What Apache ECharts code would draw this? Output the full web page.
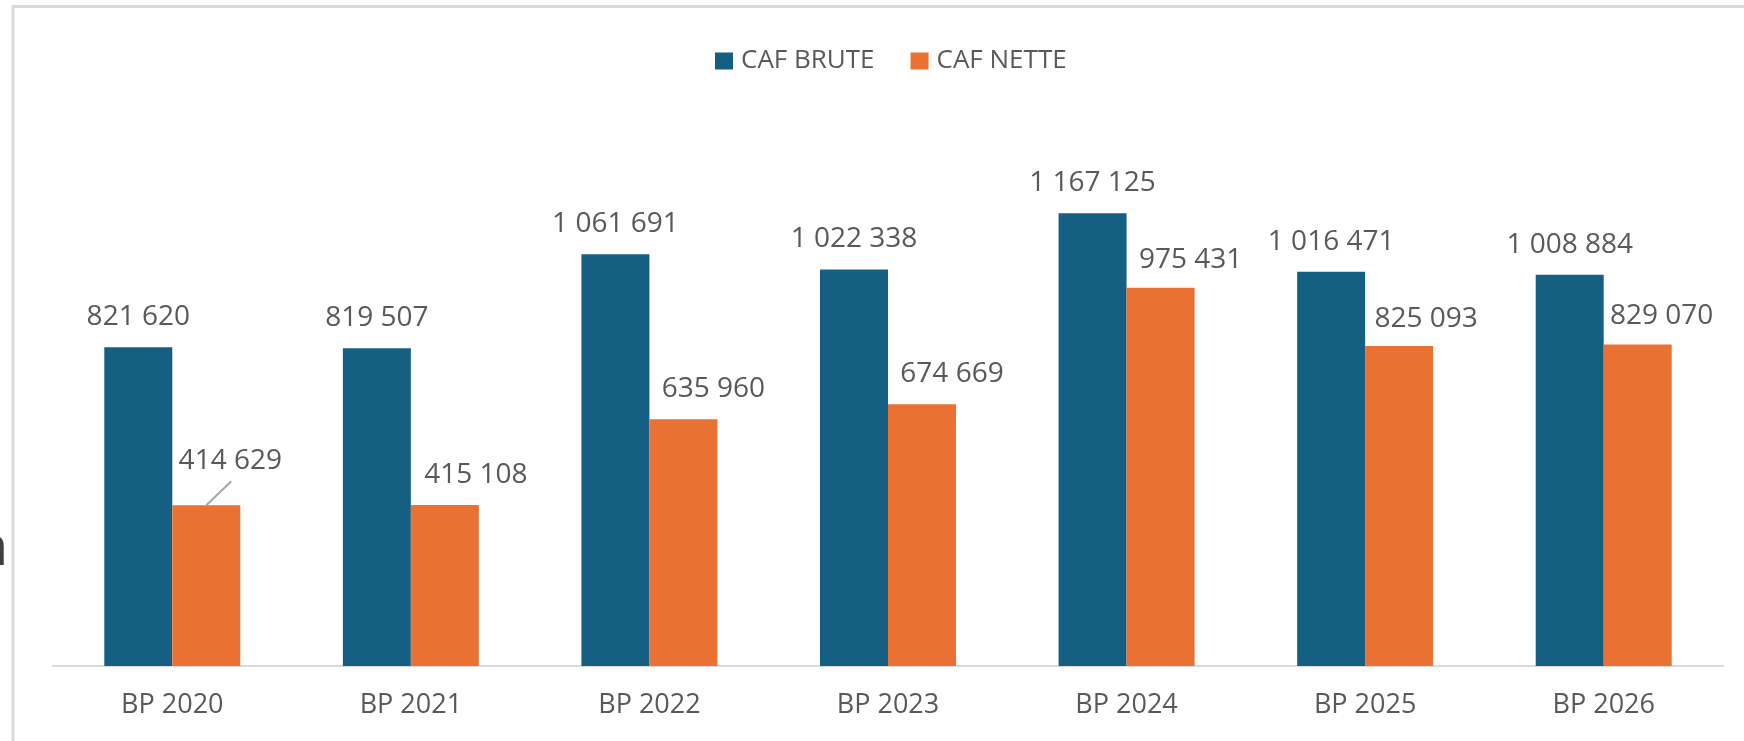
<!DOCTYPE html>
<html>
<head>
<meta charset="utf-8">
<title>CAF brute / CAF nette</title>
<script src="https://cdn.jsdelivr.net/npm/echarts@6/dist/echarts.min.js"></script>
<style>
  html, body { margin: 0; padding: 0; background: #fff; }
  #main { width: 1744px; height: 741px; }
</style>
</head>
<body>
<div id="main"></div>
<script>
// données
var categories = ['BP 2020', 'BP 2021', 'BP 2022', 'BP 2023', 'BP 2024', 'BP 2025', 'BP 2026'];
var cafBrute = [821620, 819507, 1061691, 1022338, 1167125, 1016471, 1008884];
var cafNette = [414629, 415108, 635960, 674669, 975431, 825093, 829070];

// décalage des étiquettes orange (déplacées à la main dans le graphique d'origine)
var netteLabelDx = [24, 31, 30, 30, 30, 27, 24];
var netteLabelDy = [-14, 0, 0, 0, 2, 3, 2];

var FONT = '"Open Sans", "Noto Sans", sans-serif';
var BLUE = '#156082';
var ORANGE = '#E97132';
var GRAY = '#595959';

function fmt(v) {
    return String(v).replace(/\B(?=(\d{3})+(?!\d))/g, ' ');
}

var chart = echarts.init(document.getElementById('main'));

var option = {
    animation: false,
    backgroundColor: '#fff',
    legend: {
        left: 710,
        top: 43,
        itemWidth: 18,
        itemHeight: 17,
        itemGap: 36,
        icon: 'rect',
        textStyle: {
            color: GRAY,
            fontFamily: FONT,
            fontSize: 26,
            padding: [0, 0, 0, 3]
        },
        data: ['CAF BRUTE', 'CAF NETTE']
    },
    grid: {
        left: 53,
        right: 21,
        top: 123,
        bottom: 75,
        containLabel: false
    },
    xAxis: {
        type: 'category',
        data: categories,
        axisLine: { lineStyle: { color: '#d9d9d9', width: 2 } },
        axisTick: { show: false },
        axisLabel: {
            color: GRAY,
            fontFamily: FONT,
            fontSize: 27,
            margin: 26
        }
    },
    yAxis: {
        type: 'value',
        min: 0,
        max: 1400000,
        show: false,
        splitLine: { show: false }
    },
    series: [
        {
            name: 'CAF BRUTE',
            type: 'bar',
            barGap: '0%',
            barCategoryGap: '43%',
            itemStyle: { color: BLUE },
            label: {
                show: true,
                position: 'top',
                distance: 16,
                color: GRAY,
                fontFamily: FONT,
                fontSize: 28,
                formatter: function (p) { return fmt(p.value); }
            },
            data: cafBrute
        },
        {
            name: 'CAF NETTE',
            type: 'bar',
            barGap: '0%',
            barCategoryGap: '43%',
            itemStyle: { color: ORANGE },
            label: {
                show: true,
                position: 'top',
                distance: 16,
                color: GRAY,
                fontFamily: FONT,
                fontSize: 28,
                formatter: function (p) { return fmt(p.value); }
            },
            data: cafNette.map(function (v, i) {
                return { value: v, label: { offset: [netteLabelDx[i], netteLabelDy[i]] } };
            })
        }
    ]
};
chart.setOption(option);

// cadre + trait de rappel de la première étiquette orange
var c0 = chart.convertToPixel({ xAxisIndex: 0, yAxisIndex: 0 }, [0, cafNette[0]]);
var c1 = chart.convertToPixel({ xAxisIndex: 0, yAxisIndex: 0 }, [1, cafNette[0]]);
var band = c1[0] - c0[0];
var barW = band * (1 - 0.43) / 2;
var bx = c0[0] + barW / 2;
var by = c0[1];

chart.setOption({
    graphic: [
        {
            type: 'polyline',
            shape: { points: [[13, 741], [13, 6.5], [1744, 6.5]] },
            style: { stroke: '#d9d9d9', lineWidth: 3, fill: null },
            silent: true
        },
        {
            type: 'line',
            shape: { x1: bx, y1: by, x2: bx + 25, y2: by - 24 },
            style: { stroke: '#a6a6a6', lineWidth: 2 },
            silent: true
        },
        {
            // bout de texte coupé au bord gauche
            type: 'text',
            x: -25,
            y: 577,
            style: {
                text: 'n',
                font: '54px ' + FONT,
                fill: '#404040',
                verticalAlign: 'bottom'
            },
            silent: true
        }
    ]
});
</script>
</body>
</html>
